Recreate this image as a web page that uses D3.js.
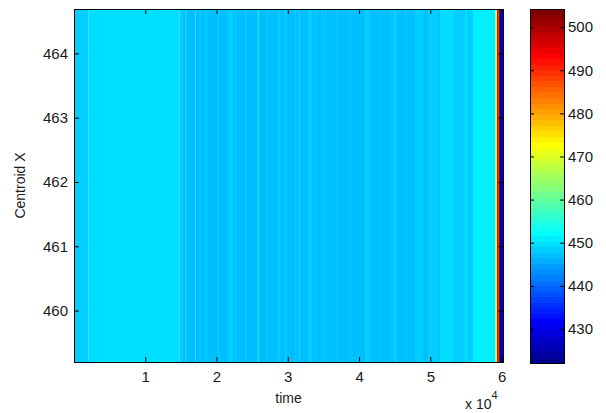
<!DOCTYPE html>
<html>
<head>
<meta charset="utf-8">
<script src="https://cdn.jsdelivr.net/npm/d3@7"></script>
<style>
  html, body { margin: 0; padding: 0; background: #fff; }
  svg { display: block; }
  text { font-family: "Liberation Sans", Arial, sans-serif; fill: #1a1a1a; }
</style>
</head>
<body>
<svg id="chart" width="606" height="413"></svg>
<script>
// ---- data ----
// start time of each constant stripe (the last stripe ends at timeEnd)
const stripeStart = [
  0, 2000, 14800, 15000, 15300, 15600, 15860, 17000, 17100, 17540, 17820,
  18380, 18660, 20200, 20350, 21610, 22310, 22590, 22730, 24000, 24140,
  25680, 25890, 27080, 27220, 28630, 28910, 29600, 29890, 31010, 31150,
  31570, 31700, 32840, 33400, 33820, 33960, 34800, 34940, 35220, 35360,
  36900, 37050, 38730, 38870, 40840, 41540, 42940, 43080, 44340, 44490,
  44770, 45330, 46450, 46590, 47850, 48980, 49680, 51080, 51360, 53190,
  54870, 55150, 55990, 59150, 59360, 59570, 59780
];
// centroid value of each stripe (drawn through the colour scale)
const stripeValue = [
  448.4, 449.7, 447.1, 448.4, 447.1, 448.4, 447.1, 448.4, 447.1, 448.4, 447.1,
  448.4, 447.1, 448.4, 447.1, 448.4, 447.1, 448.4, 447.1, 448.4, 447.1,
  448.4, 447.1, 448.4, 447.1, 448.4, 447.1, 448.4, 447.1, 448.4, 447.1,
  448.4, 447.1, 448.4, 447.1, 448.4, 447.1, 448.4, 447.1, 448.4, 447.1,
  448.4, 447.1, 448.4, 447.1, 448.4, 447.1, 448.4, 447.1, 448.4, 447.1,
  448.4, 447.1, 448.4, 447.1, 448.4, 447.1, 448.4, 447.1, 449.7, 448.4,
  449.7, 448.4, 451.0, 469.0, 494.0, 502.0, 426.0
];
const timeEnd = 60200;
const xDomain = [0, 60200];
const yDomain = [459.2, 464.69];
const cDomain = [422.1, 504.2];
const xTicks = [10000, 20000, 30000, 40000, 50000, 60000];
const xTickLabels = ["1", "2", "3", "4", "5", "6"];
const yTicks = [460, 461, 462, 463, 464];
const cTicks = [430, 440, 450, 460, 470, 480, 490, 500];
const xLabel = "time";
const yLabel = "Centroid X";

// ---- MATLAB jet(64) ----
function jet64() {
  const n = 64, m = 16;
  const u = [];
  for (let k = 1; k <= m; k++) u.push(k / m);
  for (let k = 1; k <= m - 1; k++) u.push(1);
  for (let k = m; k >= 1; k--) u.push(k / m);
  const g0 = Math.ceil(m / 2) - (n % 4 === 1 ? 1 : 0);
  const cols = [];
  for (let i = 1; i <= n; i++) cols.push([0, 0, 0]);
  for (let j = 1; j <= u.length; j++) {
    const g = g0 + j, r = g + m, b = g - m;
    if (g >= 1 && g <= n) cols[g - 1][1] = u[j - 1];
    if (r >= 1 && r <= n) cols[r - 1][0] = u[j - 1];
    if (b >= 1 && b <= n) cols[b - 1][2] = u[j - 1];
  }
  return cols.map(c => d3.rgb(c[0] * 255, c[1] * 255, c[2] * 255).formatHex());
}
const jet = jet64();
const colorScale = d3.scaleQuantize().domain(cDomain).range(jet);

// ---- layout ----
const svg = d3.select("#chart");
const P = { left: 74, right: 503, top: 9, bottom: 362 };
const CB = { left: 530, right: 564, top: 9, bottom: 363 };

const x = d3.scaleLinear().domain(xDomain).range([P.left, P.right]);
const y = d3.scaleLinear().domain(yDomain).range([P.bottom, P.top]);
const cy = d3.scaleLinear().domain(cDomain).range([CB.bottom, CB.top]);

// stripes
const stripes = stripeStart.map((s, i) => ({
  t0: s,
  t1: i < stripeStart.length - 1 ? stripeStart[i + 1] : timeEnd,
  v: stripeValue[i]
}));
svg.append("g")
  .selectAll("rect").data(stripes).join("rect")
  .attr("x", d => x(d.t0))
  .attr("width", d => Math.max(0.5, x(d.t1) - x(d.t0)))
  .attr("y", y(yDomain[1]))
  .attr("height", y(yDomain[0]) - y(yDomain[1]))
  .attr("fill", d => colorScale(d.v));

const FS = 15;
function styleAxis(g) {
  g.select(".domain").remove();
  g.selectAll("line").attr("stroke", "#000");
  g.selectAll("text").attr("font-size", FS).attr("font-family", "Liberation Sans, Arial, sans-serif").attr("fill", "#1a1a1a");
}

// bottom axis
svg.append("g").attr("transform", `translate(0,${P.bottom})`)
  .call(d3.axisBottom(x).tickValues(xTicks).tickFormat((d, i) => xTickLabels[i]).tickSize(-5).tickPadding(9))
  .call(styleAxis);
// top axis (ticks only)
svg.append("g").attr("transform", `translate(0,${P.top})`)
  .call(d3.axisTop(x).tickValues(xTicks).tickFormat("").tickSize(-5))
  .call(styleAxis);
// left axis
svg.append("g").attr("transform", `translate(${P.left},0)`)
  .call(d3.axisLeft(y).tickValues(yTicks).tickFormat(d3.format("d")).tickSize(-5).tickPadding(6))
  .call(styleAxis);
// right axis (ticks only)
svg.append("g").attr("transform", `translate(${P.right},0)`)
  .call(d3.axisRight(y).tickValues(yTicks).tickFormat("").tickSize(-5))
  .call(styleAxis);

// plot box
svg.append("rect")
  .attr("x", P.left).attr("y", P.top)
  .attr("width", P.right - P.left).attr("height", P.bottom - P.top)
  .attr("fill", "none").attr("stroke", "#000").attr("stroke-width", 1)
  .attr("shape-rendering", "crispEdges");

// axis labels
svg.append("text").attr("x", (P.left + P.right) / 2).attr("y", 403)
  .attr("text-anchor", "middle").attr("font-size", FS - 1).text(xLabel);
svg.append("text").attr("transform", `translate(25,${(P.top + P.bottom) / 2}) rotate(-90)`)
  .attr("text-anchor", "middle").attr("font-size", FS - 1).text(yLabel);
// exponent label
const ex = svg.append("text").attr("x", 465).attr("y", 409).attr("font-size", FS - 1);
ex.append("tspan").text("x 10");
ex.append("tspan").attr("dy", -10).attr("font-size", FS - 4).text("4");

// ---- colorbar ----
const bandH = (cDomain[1] - cDomain[0]) / jet.length;
const bands = jet.map((c, i) => ({ lo: cDomain[0] + i * bandH, hi: cDomain[0] + (i + 1) * bandH, c }));
svg.append("g").selectAll("rect").data(bands).join("rect")
  .attr("x", CB.left).attr("width", CB.right - CB.left)
  .attr("y", d => cy(d.hi)).attr("height", d => cy(d.lo) - cy(d.hi) + 0.5)
  .attr("fill", d => d.c)
  .attr("shape-rendering", "crispEdges");

svg.append("g").attr("transform", `translate(${CB.right},0)`)
  .call(d3.axisRight(cy).tickValues(cTicks).tickFormat(d3.format("d")).tickSize(-4).tickPadding(4))
  .call(styleAxis);
svg.append("g").attr("transform", `translate(${CB.left},0)`)
  .call(d3.axisLeft(cy).tickValues(cTicks).tickFormat("").tickSize(-4))
  .call(styleAxis);
svg.append("rect")
  .attr("x", CB.left).attr("y", CB.top)
  .attr("width", CB.right - CB.left).attr("height", CB.bottom - CB.top)
  .attr("fill", "none").attr("stroke", "#000").attr("stroke-width", 1)
  .attr("shape-rendering", "crispEdges");
</script>
</body>
</html>
